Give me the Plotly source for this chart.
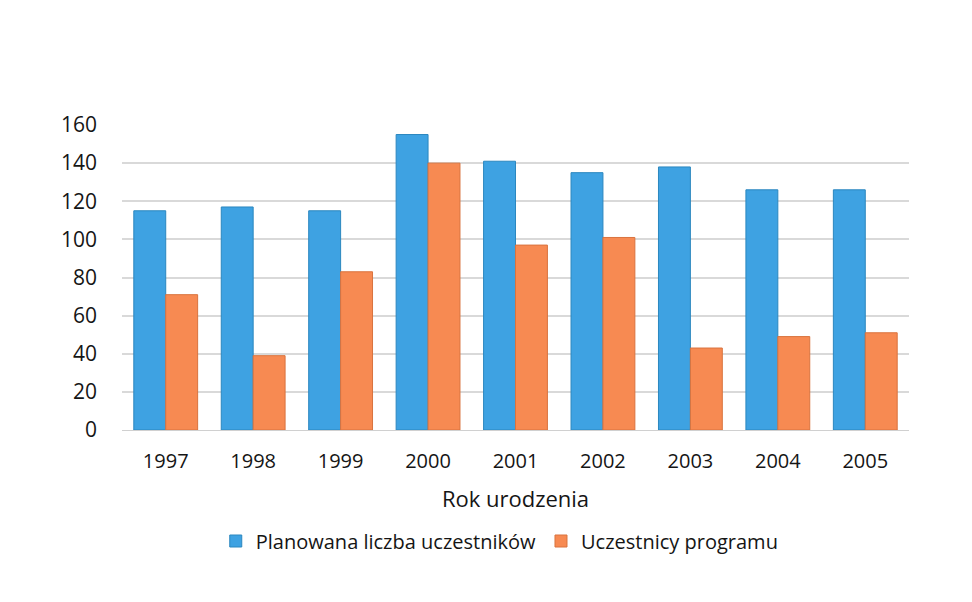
import plotly.graph_objects as go

years = ["1997", "1998", "1999", "2000", "2001", "2002", "2003", "2004", "2005"]
planned = [115, 117, 115, 155, 141, 135, 138, 126, 126]
participants = [71, 39, 83, 140, 97, 101, 43, 49, 51]
series_names = ["Planowana liczba uczestników", "Uczestnicy programu"]
y_ticks = [0, 20, 40, 60, 80, 100, 120, 140, 160]

blue = "#3ea2e2"
orange = "#f78a52"
font_family = "Open Sans, Noto Sans, sans-serif"
text_color = "#151515"

fig = go.Figure()
fig.add_trace(go.Bar(x=years, y=planned, name=series_names[0],
                     marker=dict(color=blue, line=dict(color="#2b87bf", width=1))))
fig.add_trace(go.Bar(x=years, y=participants, name=series_names[1],
                     marker=dict(color=orange, line=dict(color="#d9733e", width=1))))

fig.update_layout(
    width=972, height=602,
    paper_bgcolor="white", plot_bgcolor="white",
    margin=dict(l=114, r=71, t=117, b=180),
    barmode="group", bargap=0.27, bargroupgap=0.0,
    font=dict(family=font_family, color=text_color),
    showlegend=True,
    legend=dict(orientation="h", x=0.48, xanchor="center", y=-0.30, yanchor="top",
                font=dict(size=20, color=text_color), itemwidth=30, tracegroupgap=0),
    xaxis=dict(title=dict(text="Rok urodzenia", font=dict(size=22, color=text_color), standoff=18),
               tickfont=dict(size=20, color=text_color), showgrid=False,
               showline=True, linecolor="#d0d0d0", ticks="", ticklabelstandoff=13),
    yaxis=dict(range=[0, 160], tickvals=y_ticks, tickfont=dict(size=21, color=text_color),
               showgrid=True, gridcolor="#d9d9d9", gridwidth=1.5, zeroline=False,
               ticks="", ticklabelstandoff=24),
)

fig.write_html("out.html")
